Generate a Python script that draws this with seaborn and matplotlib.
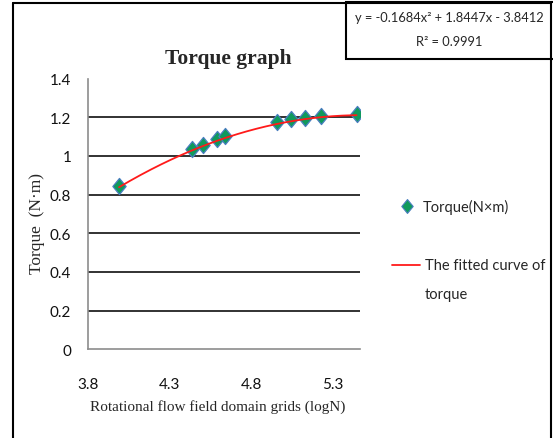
import numpy as np
import pandas as pd
import seaborn as sns
import matplotlib.pyplot as plt
from matplotlib.lines import Line2D
from matplotlib.path import Path
from matplotlib.patches import Rectangle

# Measured torque against mesh density (log of grid count)
log_grids = [3.99, 4.435, 4.506, 4.588, 4.638, 4.955, 5.042, 5.128, 5.224, 5.444]
torque = [0.846, 1.036, 1.058, 1.087, 1.104, 1.174, 1.191, 1.196, 1.205, 1.217]

# Quadratic trend line coefficients (highest power first) and goodness of fit
fit_coef = [-0.1684, 1.8447, -3.8412]
r_squared = 0.9991

x_ticks = [3.8, 4.3, 4.8, 5.3]
y_ticks = [0, 0.2, 0.4, 0.6, 0.8, 1.0, 1.2, 1.4]
y_tick_labels = ["0", "0.2", "0.4", "0.6", "0.8", "1", "1.2", "1.4"]

sns.set_style("white")
plt.rcParams["font.family"] = ["Lato", "DejaVu Sans"]

W, H = 553, 439
fig = plt.figure(figsize=(W / 100, H / 100), dpi=100)
ax = fig.add_axes([88 / W, 1 - 350.4 / H, (360 - 88) / W, (350.4 - 79.5) / H])

df = pd.DataFrame({"logN": log_grids, "torque": torque})
curve_x = np.linspace(min(log_grids), max(log_grids), 200)
curve = pd.DataFrame({"logN": curve_x, "torque": np.polyval(fit_coef, curve_x)})

# horizontal gridlines
for yv in y_ticks[1:-1]:
    ax.axhline(yv, color="#222222", lw=1.3, zorder=0)

diamond = Path([(0, 1), (0.82, 0), (0, -1), (-0.82, 0), (0, 1)],
               [Path.MOVETO, Path.LINETO, Path.LINETO, Path.LINETO, Path.CLOSEPOLY])

sns.scatterplot(data=df, x="logN", y="torque", ax=ax, marker=diamond, s=135,
                color="#109A5C", edgecolor="#4A7EC0", linewidth=0.9, zorder=3)
sns.lineplot(data=curve, x="logN", y="torque", ax=ax, color="#FF1A1A", lw=1.3, zorder=4)

ax.set_xlim(3.8, 5.465)
ax.set_ylim(0, 1.4)
ax.set_xticks(x_ticks)
ax.set_xticklabels([f"{v:.1f}" for v in x_ticks])
ax.set_yticks(y_ticks)
ax.set_yticklabels(y_tick_labels)
ax.tick_params(axis="both", length=0, labelsize=11, colors="#111111")
ax.tick_params(axis="x", pad=20)
ax.tick_params(axis="y", pad=12)
ax.set_xlabel("")
ax.set_ylabel("")
for side in ["top", "right"]:
    ax.spines[side].set_visible(False)
for side in ["left", "bottom"]:
    ax.spines[side].set_color("#8C8C8C")
    ax.spines[side].set_linewidth(1.2)

serif = ["Liberation Serif", "DejaVu Serif"]
fig.text(228 / W, 1 - 59 / H, "Torque graph", family=serif, fontweight="bold",
         fontsize=15.5, ha="center", va="center")
fig.text(37 / W, 1 - 223 / H, "Torque  (N·m)", family=serif, fontsize=12.5,
         rotation=90, ha="center", va="center")
fig.text(218 / W, 1 - 407 / H, "Rotational flow field domain grids (logN)",
         family=serif, fontsize=11, ha="center", va="center")

# chart frame (left, top, right)
frame_kw = dict(color="black", lw=1.5, transform=fig.transFigure)
fig.add_artist(Line2D([13 / W, 13 / W], [0, 1 - 4 / H], **frame_kw))
fig.add_artist(Line2D([13 / W, 551 / W], [1 - 4 / H, 1 - 4 / H], **frame_kw))
fig.add_artist(Line2D([551 / W, 551 / W], [0, 1 - 4 / H], **frame_kw))

# trend-line equation box
fig.add_artist(Rectangle((346 / W, 1 - 60 / H), (W - 346) / W + 0.01, 57 / H,
                         transform=fig.transFigure, facecolor="white",
                         edgecolor="black", lw=1.5))
a, b, c = fit_coef
eq = f"y = {a:.4f}x² + {b:.4f}x - {abs(c):.4f}"
fig.text(449 / W, 1 - 18 / H, eq, fontsize=9.3, ha="center", va="center")
fig.text(449 / W, 1 - 42 / H, f"R² = {r_squared:.4f}", fontsize=9.3,
         ha="center", va="center")

# legend
fig.add_artist(Line2D([407 / W], [1 - 207 / H], marker=diamond, markersize=10,
                      color="#109A5C", markeredgecolor="#4A7EC0", markeredgewidth=0.8,
                      transform=fig.transFigure))
fig.text(423 / W, 1 - 207 / H, "Torque(N×m)", fontsize=10.5, ha="left", va="center")
fig.add_artist(Line2D([392 / W, 420 / W], [1 - 266 / H, 1 - 266 / H], color="#FF1A1A",
                      lw=1.3, transform=fig.transFigure))
fig.text(425 / W, 1 - 266 / H, "The fitted curve of", fontsize=10.5, ha="left", va="center")
fig.text(425 / W, 1 - 295 / H, "torque", fontsize=10.5, ha="left", va="center")

fig.savefig("out.png", dpi=100, facecolor="white")
